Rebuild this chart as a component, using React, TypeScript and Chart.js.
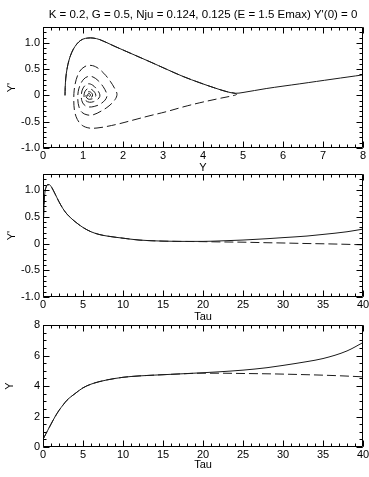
import React, { useEffect, useRef } from 'react';
import { Chart, registerables } from 'chart.js';

Chart.register(...registerables);

const TITLE = "K = 0.2, G = 0.5, Nju = 0.124, 0.125 (E = 1.5 Emax) Y'(0) = 0";

// ---------- Panel 1: phase plane (Y, Y') ----------
const PHASE_COMMON_Y = [0.55, 0.555, 0.57, 0.6, 0.65, 0.72, 0.8, 0.9, 1.0, 1.12, 1.25, 1.42, 1.8, 2.25, 2.7, 3.08, 3.5, 3.92, 4.3, 4.6, 4.8];
const PHASE_COMMON_YP = [0, 0.15, 0.33, 0.5, 0.67, 0.82, 0.93, 1.02, 1.07, 1.09, 1.09, 1.06, 0.93, 0.78, 0.63, 0.5, 0.36, 0.24, 0.14, 0.07, 0.04];
const PHASE_SOLID_TAIL_Y = [5.0, 5.58, 6.42, 7.25, 8.0];
const PHASE_SOLID_TAIL_YP = [0.055, 0.13, 0.22, 0.31, 0.39];
const PHASE_DASH_TAIL_Y = [4.84, 4.78, 4.4, 3.92, 3.5, 3.08, 2.65, 2.25, 1.9, 1.6, 1.35, 1.15, 0.98, 0.86, 0.79, 0.77, 0.78, 0.83, 0.92, 1.05, 1.2, 1.35, 1.52, 1.68, 1.8, 1.85, 1.8, 1.65, 1.45, 1.25, 1.1, 0.97, 0.9, 0.87, 0.88, 0.93, 1.02, 1.13, 1.25, 1.38, 1.5, 1.58, 1.6, 1.55, 1.42, 1.28, 1.14, 1.03, 0.97, 0.96, 0.98, 1.04, 1.13, 1.23, 1.33, 1.41, 1.42, 1.36, 1.26, 1.16, 1.07, 1.03, 1.03, 1.07, 1.14, 1.22, 1.29, 1.32, 1.28, 1.2, 1.13, 1.08, 1.08, 1.11, 1.16, 1.21, 1.24, 1.22, 1.17, 1.12, 1.11, 1.13, 1.17, 1.19, 1.16, 1.14];
const PHASE_DASH_TAIL_YP = [0.02, 0.0, -0.06, -0.14, -0.22, -0.31, -0.39, -0.47, -0.54, -0.59, -0.62, -0.62, -0.57, -0.46, -0.3, -0.1, 0.1, 0.3, 0.46, 0.55, 0.57, 0.53, 0.42, 0.27, 0.12, 0.02, -0.08, -0.2, -0.3, -0.37, -0.37, -0.32, -0.22, -0.08, 0.07, 0.2, 0.31, 0.36, 0.35, 0.28, 0.17, 0.06, -0.01, -0.09, -0.17, -0.21, -0.22, -0.18, -0.1, 0.0, 0.1, 0.18, 0.22, 0.2, 0.13, 0.04, -0.02, -0.08, -0.12, -0.13, -0.1, -0.04, 0.03, 0.1, 0.13, 0.11, 0.06, 0.0, -0.05, -0.07, -0.07, -0.03, 0.02, 0.06, 0.07, 0.05, 0.01, -0.03, -0.04, -0.03, 0.0, 0.03, 0.03, 0.0, -0.02, 0];

// ---------- Panels 2 & 3: time series ----------
const TAU_COMMON = [0, 0.08, 0.2, 0.4, 0.6, 0.8, 1, 1.5, 2, 2.5, 3, 4, 5, 6, 7, 8, 10, 12, 15, 17];
const TAU_TAIL = [20, 22, 25, 28, 30, 33, 35, 38, 40];

const YP_COMMON = [0, 0.55, 0.9, 1.06, 1.1, 1.1, 1.07, 0.93, 0.78, 0.65, 0.55, 0.41, 0.3, 0.22, 0.17, 0.14, 0.1, 0.065, 0.045, 0.04];
const YP_SOLID_TAIL = [0.04, 0.048, 0.065, 0.09, 0.11, 0.14, 0.17, 0.22, 0.27];
const YP_DASH_TAIL = [0.035, 0.03, 0.025, 0.015, 0.01, 0.0, -0.005, -0.015, -0.025];

const Y_COMMON = [0.5, 0.58, 0.7, 0.9, 1.1, 1.3, 1.5, 1.98, 2.4, 2.75, 3.07, 3.5, 3.88, 4.12, 4.28, 4.4, 4.57, 4.66, 4.74, 4.79];
const Y_SOLID_TAIL = [4.87, 4.93, 5.04, 5.2, 5.35, 5.6, 5.8, 6.3, 6.85];
const Y_DASH_TAIL = [4.84, 4.84, 4.82, 4.8, 4.78, 4.74, 4.71, 4.65, 4.6];

// ---------- Ticks ----------
const X1_TICKS = [0, 1, 2, 3, 4, 5, 6, 7, 8];
const X1_LABELS = ['0', '1', '2', '3', '4', '5', '6', '7', '8'];
const XT_TICKS = [0, 5, 10, 15, 20, 25, 30, 35, 40];
const XT_LABELS = ['0', '5', '10', '15', '20', '25', '30', '35', '40'];
const YP_TICKS = [-1, -0.5, 0, 0.5, 1];
const YP_LABELS = ['-1.0', '-0.5', '0', '0.5', '1.0'];
const Y_TICKS = [0, 2, 4, 6, 8];
const Y_LABELS = ['0', '2', '4', '6', '8'];

const W = 369;
const H = 477;
const FONT = 'Liberation Sans, Arial, Helvetica, sans-serif';
const LINE = '#1a1a1a';
const DASH = [9, 4];

function pts(xs: number[], ys: number[]) {
  return xs.map((x, i) => ({ x, y: ys[i] }));
}

function steps(min: number, max: number, step: number) {
  const out: number[] = [];
  const n = Math.round((max - min) / step);
  for (let i = 0; i <= n; i++) out.push(+(min + i * step).toFixed(6));
  return out;
}

const framePlugin = {
  id: 'frame',
  afterDatasetsDraw(chart: any, _args: any, opts: any) {
    const { ctx, chartArea: a, scales } = chart;
    const x = scales.x;
    const y = scales.y;
    const L = Math.round(a.left) + 0.5;
    const R = Math.round(a.right) - 0.5;
    const T = Math.round(a.top) + 0.5;
    const B = Math.round(a.bottom) - 0.5;
    ctx.save();
    ctx.strokeStyle = '#000';
    ctx.lineWidth = 1;
    ctx.beginPath();
    ctx.rect(L, T, R - L, B - T);
    const xt = (vals: number[], len: number) => {
      vals.forEach((v) => {
        const p = Math.round(x.getPixelForValue(v)) + 0.5;
        ctx.moveTo(p, B);
        ctx.lineTo(p, B - len);
        ctx.moveTo(p, T);
        ctx.lineTo(p, T + len);
      });
    };
    const yt = (vals: number[], len: number) => {
      vals.forEach((v) => {
        const p = Math.round(y.getPixelForValue(v)) + 0.5;
        ctx.moveTo(L, p);
        ctx.lineTo(L + len, p);
        ctx.moveTo(R, p);
        ctx.lineTo(R - len, p);
      });
    };
    xt(opts.xMinor, 3);
    xt(opts.xMajor, 6);
    yt(opts.yMinor, 3);
    yt(opts.yMajor, 6);
    ctx.stroke();
    ctx.restore();
  },
};

interface PanelCfg {
  datasets: any[];
  xMin: number; xMax: number; xTicks: number[]; xLabels: string[]; xTitle: string; xMinorStep: number;
  yMin: number; yMax: number; yTicks: number[]; yLabels: string[]; yTitle: string; yMinorStep: number;
  padTop: number; padBottom: number; xAxisH: number; xTitlePad: number; yTitlePad: number;
  title?: string;
}

function buildConfig(c: PanelCfg): any {
  const tickFont = { family: FONT, size: 11 };
  return {
    type: 'scatter',
    data: { datasets: c.datasets },
    plugins: [framePlugin],
    options: {
      animation: false,
      responsive: false,
      events: [],
      layout: { padding: { top: c.padTop, bottom: c.padBottom, left: 0, right: 6 } },
      plugins: {
        legend: { display: false },
        tooltip: { enabled: false },
        title: c.title
          ? {
              display: true,
              text: c.title,
              fullSize: false,
              color: '#000',
              font: { family: FONT, size: 11.5, weight: 'normal' },
              padding: { top: 7.6, bottom: 5.6 },
            }
          : { display: false },
        frame: {
          xMajor: c.xTicks,
          xMinor: steps(c.xMin, c.xMax, c.xMinorStep),
          yMajor: c.yTicks,
          yMinor: steps(c.yMin, c.yMax, c.yMinorStep),
        },
      },
      scales: {
        x: {
          type: 'linear',
          min: c.xMin,
          max: c.xMax,
          afterBuildTicks: (s: any) => {
            s.ticks = c.xTicks.map((v) => ({ value: v }));
          },
          afterFit: (s: any) => {
            s.height = c.xAxisH;
            s.paddingLeft = 0;
            s.paddingRight = 0;
          },
          ticks: {
            autoSkip: false,
            maxRotation: 0,
            minRotation: 0,
            padding: 1,
            color: '#000',
            font: tickFont,
            callback: (_v: any, i: number) => c.xLabels[i],
          },
          grid: { display: false, drawTicks: false },
          border: { display: false },
          title: {
            display: true,
            text: c.xTitle,
            color: '#000',
            font: tickFont,
            padding: { top: 0, bottom: c.xTitlePad },
          },
        },
        y: {
          type: 'linear',
          min: c.yMin,
          max: c.yMax,
          afterBuildTicks: (s: any) => {
            s.ticks = c.yTicks.map((v) => ({ value: v }));
          },
          afterFit: (s: any) => {
            s.width = 43;
            s.paddingTop = 0;
            s.paddingBottom = 0;
          },
          ticks: {
            autoSkip: false,
            padding: 3,
            color: '#000',
            font: tickFont,
            callback: (_v: any, i: number) => c.yLabels[i],
          },
          grid: { display: false, drawTicks: false },
          border: { display: false },
          title: {
            display: true,
            text: c.yTitle,
            color: '#000',
            font: tickFont,
            padding: { top: c.yTitlePad, bottom: 0 },
          },
        },
      },
    },
  };
}

function line(data: any[], dashed: boolean, mono: boolean) {
  return {
    data,
    showLine: true,
    borderColor: LINE,
    borderWidth: 1,
    borderDash: dashed ? DASH : [],
    pointRadius: 0,
    fill: false,
    tension: mono ? 0 : 0.35,
    cubicInterpolationMode: mono ? 'monotone' : 'default',
  };
}

function Panel({ cfg }: { cfg: PanelCfg }) {
  const ref = useRef<HTMLCanvasElement | null>(null);
  useEffect(() => {
    if (!ref.current) return;
    const chart = new Chart(ref.current, buildConfig(cfg));
    return () => chart.destroy();
  }, []);
  return (
    <canvas
      ref={ref}
      width={W}
      height={H}
      style={{ position: 'absolute', left: 0, top: 0, width: W, height: H }}
    />
  );
}

const phaseSolid = pts([...PHASE_COMMON_Y, ...PHASE_SOLID_TAIL_Y], [...PHASE_COMMON_YP, ...PHASE_SOLID_TAIL_YP]);
const phaseDash = pts([...PHASE_COMMON_Y, ...PHASE_DASH_TAIL_Y], [...PHASE_COMMON_YP, ...PHASE_DASH_TAIL_YP]);
const ypSolid = pts([...TAU_COMMON, ...TAU_TAIL], [...YP_COMMON, ...YP_SOLID_TAIL]);
const ypDash = pts([...TAU_COMMON, ...TAU_TAIL], [...YP_COMMON, ...YP_DASH_TAIL]);
const ySolid = pts([...TAU_COMMON, ...TAU_TAIL], [...Y_COMMON, ...Y_SOLID_TAIL]);
const yDash = pts([...TAU_COMMON, ...TAU_TAIL], [...Y_COMMON, ...Y_DASH_TAIL]);

const PANELS: PanelCfg[] = [
  {
    title: TITLE,
    datasets: [line(phaseDash, true, false), line(phaseSolid, false, false)],
    xMin: 0, xMax: 8, xTicks: X1_TICKS, xLabels: X1_LABELS, xTitle: 'Y', xMinorStep: 0.2,
    yMin: -1, yMax: 1.3, yTicks: YP_TICKS, yLabels: YP_LABELS, yTitle: "Y'", yMinorStep: 0.1,
    padTop: 0, padBottom: H - 176, xAxisH: 28, xTitlePad: 1.5, yTitlePad: 5,
  },
  {
    datasets: [line(ypDash, true, true), line(ypSolid, false, true)],
    xMin: 0, xMax: 40, xTicks: XT_TICKS, xLabels: XT_LABELS, xTitle: 'Tau', xMinorStep: 1,
    yMin: -1, yMax: 1.3, yTicks: YP_TICKS, yLabels: YP_LABELS, yTitle: "Y'", yMinorStep: 0.1,
    padTop: 174, padBottom: H - 325, xAxisH: 28, xTitlePad: 1.5, yTitlePad: 5,
  },
  {
    datasets: [line(yDash, true, true), line(ySolid, false, true)],
    xMin: 0, xMax: 40, xTicks: XT_TICKS, xLabels: XT_LABELS, xTitle: 'Tau', xMinorStep: 1,
    yMin: 0, yMax: 8, yTicks: Y_TICKS, yLabels: Y_LABELS, yTitle: 'Y', yMinorStep: 0.5,
    padTop: 325, padBottom: 4, xAxisH: 26, xTitlePad: 1.4, yTitlePad: 3,
  },
];

export default function App() {
  return (
    <div style={{ position: 'fixed', left: 0, top: 0, width: W, height: H, background: '#fff' }}>
      {PANELS.map((p, i) => (
        <Panel key={i} cfg={p} />
      ))}
    </div>
  );
}
